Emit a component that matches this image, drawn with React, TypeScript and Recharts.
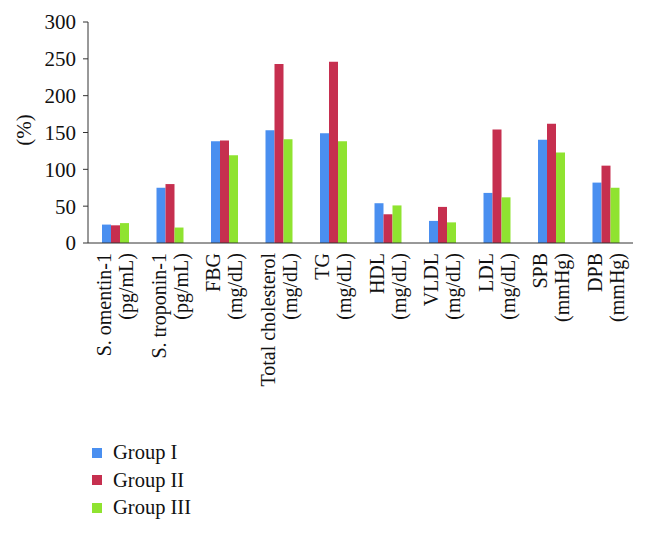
import { Bar, BarChart, Label, Legend, XAxis, YAxis } from "recharts";

const categories = [
  ["S. omentin-1", "(pg/mL)"],
  ["S. troponin-1", "(pg/mL)"],
  ["FBG", "(mg/dL)"],
  ["Total cholesterol", "(mg/dL)"],
  ["TG", "(mg/dL)"],
  ["HDL", "(mg/dL)"],
  ["VLDL", "(mg/dL)"],
  ["LDL", "(mg/dL)"],
  ["SPB", "(mmHg)"],
  ["DPB", "(mmHg)"],
];

const groupI = [25, 75, 138, 153, 149, 54, 30, 68, 140, 82];
const groupII = [24, 80, 139, 243, 246, 39, 49, 154, 162, 105];
const groupIII = [27, 21, 119, 141, 138, 51, 28, 62, 123, 75];

const yTicks = [0, 50, 100, 150, 200, 250, 300];

const series = [
  { key: "g1", name: "Group I", color: "#4a8ff0" },
  { key: "g2", name: "Group II", color: "#c62f4f" },
  { key: "g3", name: "Group III", color: "#8fe330" },
];

const data = categories.map((lines, i) => ({
  label: lines.join("|"),
  g1: groupI[i],
  g2: groupII[i],
  g3: groupIII[i],
}));

const FONT = "'Liberation Serif', 'DejaVu Serif', serif";

const CategoryTick = (props: any) => {
  const { x, y, payload } = props;
  const lines = String(payload.value).split("|");
  return (
    <g transform={`translate(${x},${y}) rotate(-90)`}>
      {lines.map((line, i) => (
        <text
          key={i}
          x={0}
          y={i === 0 ? -11 : 11}
          textAnchor="end"
          dominantBaseline="central"
          fontFamily={FONT}
          fontSize={20}
          fill="#111"
        >
          {line}
        </text>
      ))}
    </g>
  );
};

const LegendBox = () => (
  <div style={{ fontFamily: FONT, fontSize: 20.5, color: "#111" }}>
    {series.map((s) => (
      <div
        key={s.key}
        style={{ display: "flex", alignItems: "center", height: 27.5 }}
      >
        <span
          style={{
            display: "inline-block",
            width: 10,
            height: 10,
            background: s.color,
            marginRight: 11,
          }}
        />
        {s.name}
      </div>
    ))}
  </div>
);

export default function App() {
  return (
    <div style={{ position: "absolute", left: 0, top: 0 }}>
      <BarChart
        width={647}
        height={534}
        data={data}
        margin={{ top: 22, right: 14, left: 0, bottom: 0 }}
        barSize={9}
        barGap={0}
      >
        <XAxis
          dataKey="label"
          height={291}
          interval={0}
          tickLine={false}
          tickSize={0}
          tickMargin={10}
          stroke="#333"
          tick={(props) => <CategoryTick {...props} />}
        />
        <YAxis
          width={88}
          domain={[0, 300]}
          ticks={yTicks}
          tickSize={5}
          tickMargin={7}
          stroke="#333"
          tick={{ fontFamily: FONT, fontSize: 21, fill: "#111" }}
        >
          <Label
            content={() => (
              <text
                x={24}
                y={130}
                transform="rotate(-90 24 130)"
                textAnchor="middle"
                dominantBaseline="central"
                fontFamily={FONT}
                fontSize={21}
                fill="#111"
              >
                (%)
              </text>
            )}
          />
        </YAxis>
        <Legend
          layout="vertical"
          align="center"
          verticalAlign="middle"
          content={() => <LegendBox />}
          wrapperStyle={{ left: 92, top: 439, width: 170, height: 84 }}
        />
        {series.map((s) => (
          <Bar
            key={s.key}
            dataKey={s.key}
            name={s.name}
            fill={s.color}
            isAnimationActive={false}
          />
        ))}
      </BarChart>
    </div>
  );
}
